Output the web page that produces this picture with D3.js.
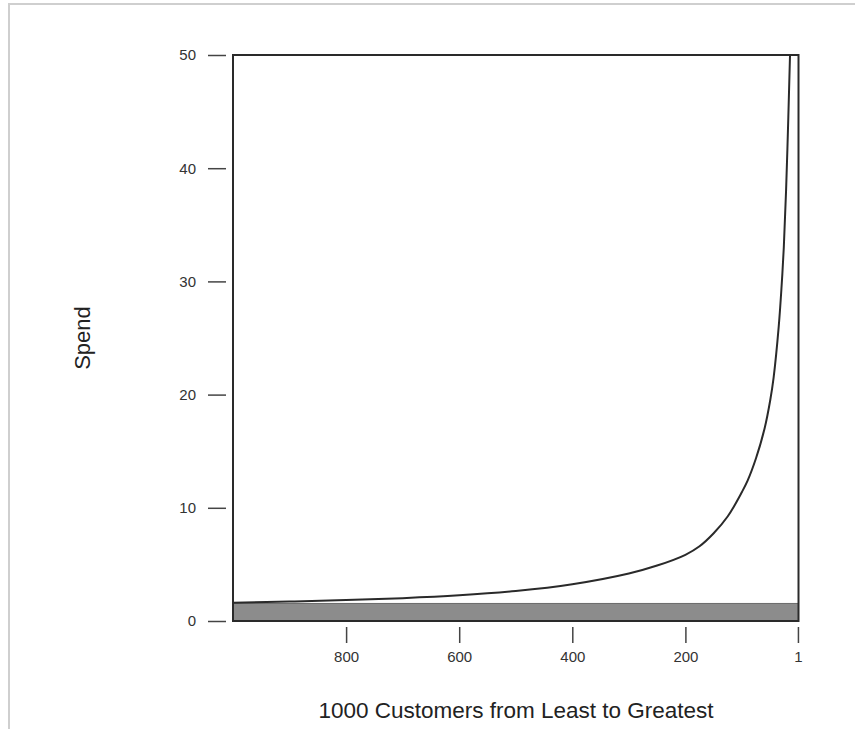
<!DOCTYPE html>
<html>
<head>
<meta charset="utf-8">
<script src="https://cdn.jsdelivr.net/npm/d3@7"></script>
<style>
  html, body { margin: 0; padding: 0; background: #fff; }
  svg { display: block; }
  text { font-family: "Liberation Sans", Arial, Helvetica, sans-serif; }
</style>
</head>
<body>
<script>
// Data
const ranks  = [1000, 900, 800, 700, 600, 500, 400, 300, 250, 200, 175, 150, 125, 100, 90, 75, 60, 50, 44, 35, 30, 26, 22, 18, 15, 13];
const spend  = [1.62, 1.72, 1.85, 2.02, 2.27, 2.65, 3.25, 4.2, 4.9, 5.85, 6.6, 7.75, 9.25, 11.4, 12.4, 14.4, 17.0, 19.5, 21.5, 26.0, 29.5, 33.0, 38.0, 44.5, 50.0, 55.0];
const bandValue = [1.55];
const xTicks = [800, 600, 400, 200, 1];
const yTicks = [0, 10, 20, 30, 40, 50];
const xLabel = "1000 Customers from Least to Greatest";
const yLabel = "Spend";

const W = 855, H = 729;
const svg = d3.select("body").append("svg").attr("width", W).attr("height", H);

// outer light frame
svg.append("path")
  .attr("d", `M9,${H} L9,4 L${W},4`)
  .attr("fill", "none").attr("stroke", "#cfcfcf").attr("stroke-width", 2);

const x = d3.scaleLinear().domain([1000, 0]).range([233, 798.5]);
const y = d3.scaleLinear().domain([0, 50]).range([621, 55]);

const defs = svg.append("defs");
defs.append("clipPath").attr("id", "plotclip")
  .append("rect").attr("x", x(1000)).attr("y", y(50)).attr("width", x(0) - x(1000)).attr("height", y(0) - y(50));

// band
svg.append("rect")
  .attr("x", x(1000)).attr("y", y(bandValue[0]))
  .attr("width", x(0) - x(1000)).attr("height", y(0) - y(bandValue[0]))
  .attr("fill", "#8c8c8c");
svg.append("line")
  .attr("x1", x(1000)).attr("x2", x(0))
  .attr("y1", y(bandValue[0])).attr("y2", y(bandValue[0]))
  .attr("stroke", "#6a6a6a").attr("stroke-width", 1);

// curve
const pts = ranks.map((r, i) => [r, spend[i]]);
svg.append("path")
  .datum(pts)
  .attr("clip-path", "url(#plotclip)")
  .attr("fill", "none")
  .attr("stroke", "#2a2a2a")
  .attr("stroke-width", 2)
  .attr("d", d3.line().x(d => x(d[0])).y(d => y(d[1])).curve(d3.curveCatmullRom.alpha(0.5)));

// plot box
svg.append("rect")
  .attr("x", x(1000)).attr("y", y(50))
  .attr("width", x(0) - x(1000)).attr("height", y(0) - y(50))
  .attr("fill", "none").attr("stroke", "#2a2a2a").attr("stroke-width", 2);

// y axis
const yAxis = d3.axisLeft(y).tickValues(yTicks).tickSize(18).tickPadding(12).tickFormat(d3.format("d"));
const gy = svg.append("g").attr("transform", `translate(${x(1000) - 7},0)`).call(yAxis);
gy.select(".domain").remove();
gy.selectAll(".tick line").attr("stroke", "#444").attr("stroke-width", 1.5);
gy.selectAll(".tick text").attr("fill", "#333").style("font-size", "15px").style("font-family", "Liberation Sans, Arial, sans-serif");

// x axis
const xAxis = d3.axisBottom(x).tickValues(xTicks).tickSize(16).tickPadding(8).tickFormat(d3.format("d"));
const gx = svg.append("g").attr("transform", `translate(0,${y(0) + 6})`).call(xAxis);
gx.select(".domain").remove();
gx.selectAll(".tick line").attr("stroke", "#444").attr("stroke-width", 1.5);
gx.selectAll(".tick text").attr("fill", "#333").style("font-size", "15px").style("font-family", "Liberation Sans, Arial, sans-serif");

// axis titles
svg.append("text")
  .attr("x", 516).attr("y", 718)
  .attr("text-anchor", "middle").attr("fill", "#222")
  .style("font-size", "22.5px").text(xLabel);
svg.append("text")
  .attr("transform", `translate(90,338) rotate(-90)`)
  .attr("text-anchor", "middle").attr("fill", "#222")
  .style("font-size", "22px").text(yLabel);
</script>
</body>
</html>
